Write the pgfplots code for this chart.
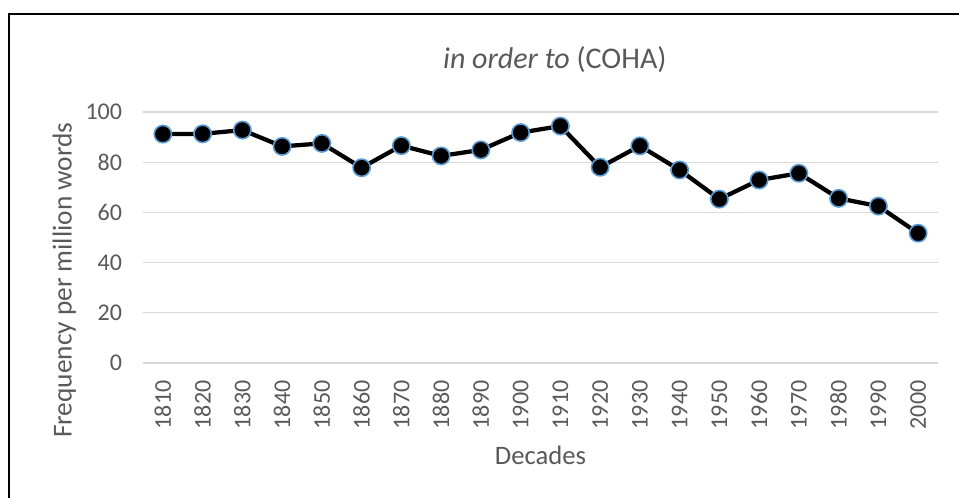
\documentclass[border=0pt]{standalone}
\usepackage{pgfplots}
\pgfplotsset{compat=1.18}
\usepackage{fontspec}
\setmainfont{Carlito}
\definecolor{txt}{HTML}{595959}
\definecolor{gridc}{HTML}{D9D9D9}
\definecolor{mkblue}{HTML}{5B9BD5}
\begin{document}
\begin{tikzpicture}
\useasboundingbox (0,0) rectangle (719.25pt,372.75pt);
% chart border (cropped at right and bottom)
\draw[line width=1.5pt] (7.1pt,-20pt) |- (740pt,362.6pt);
\begin{axis}[
    at={(107.25pt,100.5pt)}, anchor=south west,
    scale only axis,
    width=596.25pt, height=188.25pt,
    xmin=-0.5, xmax=19.5,
    ymin=0, ymax=100,
    ytick={0,20,...,100},
    xtick={0,...,19},
    xticklabels={1810,1820,1830,1840,1850,1860,1870,1880,1890,1900,1910,1920,1930,1940,1950,1960,1970,1980,1990,2000},
    axis line style={draw=none},
    major tick length=0pt,
    ymajorgrids, grid style={gridc, line width=1pt},
    /pgf/number format/assume math mode=true,
    tick label style={font=\fontsize{18}{20}\selectfont, text=txt},
    yticklabel style={anchor=east, inner sep=0pt, xshift=-15.5pt},
    xticklabel style={rotate=90, anchor=east, inner sep=0pt, xshift=-13pt},
    title={\textit{in order to} (COHA)},
    title style={font=\fontsize{22.5}{26}\selectfont, text=txt, anchor=center, at={(axis description cs:0.518,1.175)}},
    xlabel={Decades},
    xlabel style={font=\fontsize{20}{22}\selectfont, text=txt, anchor=center, at={(axis description cs:0.5,-0.367)}},
    ylabel={Frequency per million words},
    ylabel style={font=\fontsize{20.5}{22}\selectfont, text=txt, anchor=center, at={(axis description cs:-0.099,0.33)}},
]
\addplot[black, line width=3.2pt, mark=*, mark size=6.5pt,
    mark options={fill=black, draw=mkblue, line width=1.2pt}] coordinates {
    (0,91.2) (1,91.3) (2,92.8) (3,86.3) (4,87.5) (5,77.8) (6,86.6) (7,82.5)
    (8,84.9) (9,91.8) (10,94.4) (11,78.0) (12,86.5) (13,76.9) (14,65.3)
    (15,72.9) (16,75.6) (17,65.6) (18,62.5) (19,51.7)
};
\end{axis}
\end{tikzpicture}
\end{document}
